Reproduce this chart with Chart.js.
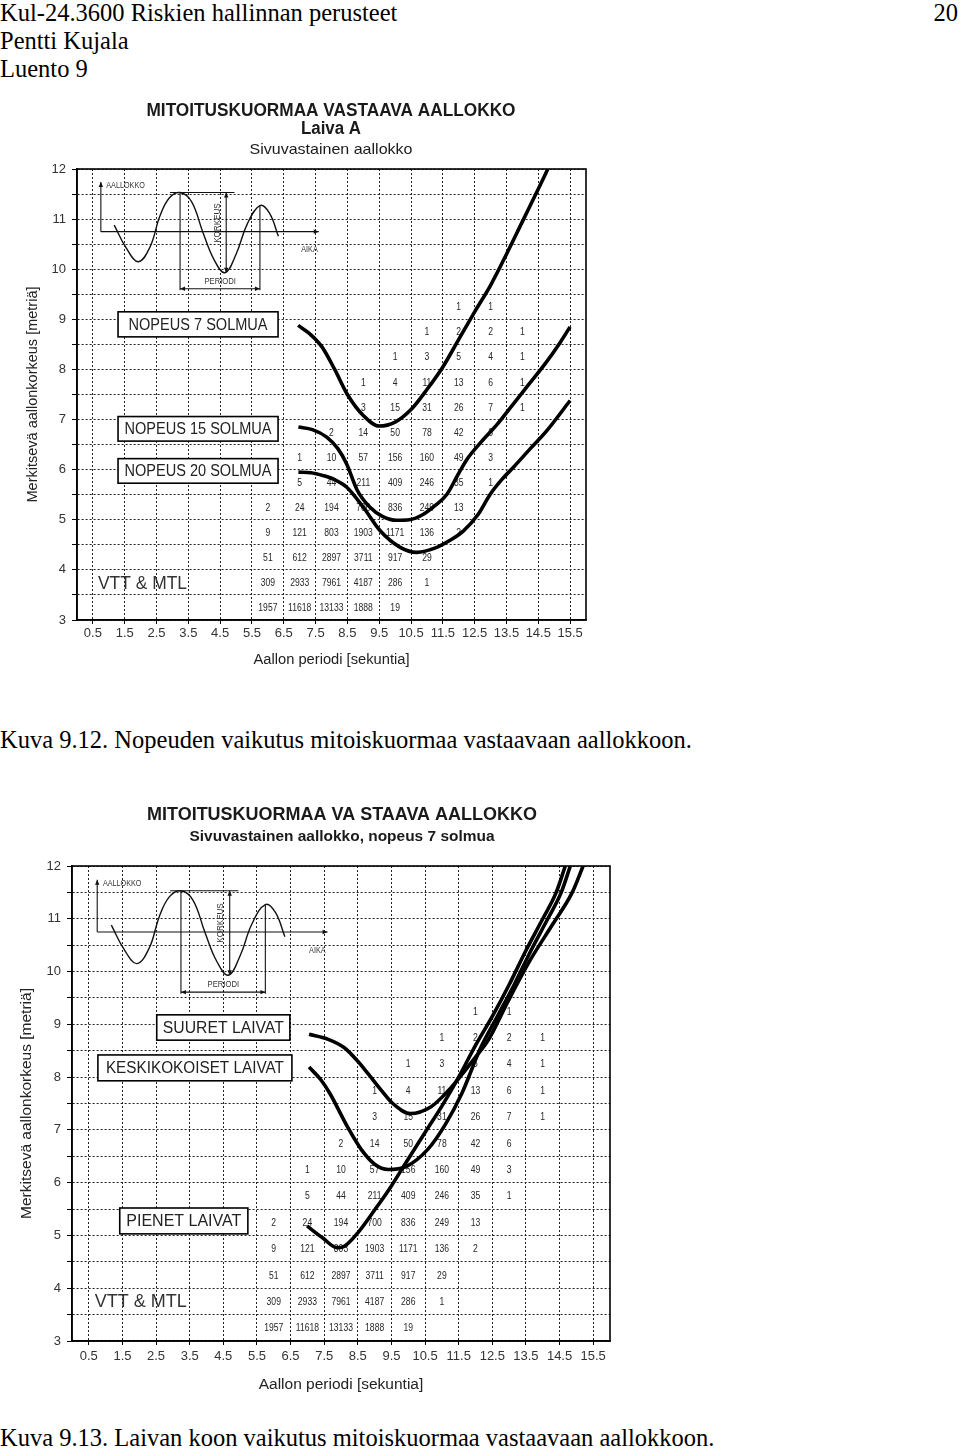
<!DOCTYPE html>
<html><head><meta charset="utf-8">
<script src="https://cdn.jsdelivr.net/npm/chart.js@4.4.1/dist/chart.umd.min.js"></script>
<style>
body{margin:0;background:#fff;width:960px;height:1448px;position:relative;overflow:hidden;font-family:"Liberation Serif","Times New Roman",serif;}
.t{position:absolute;font-size:24.5px;line-height:28px;white-space:nowrap;color:#000;}
#w1{position:absolute;left:0;top:90px;width:640px;height:600px;}
#w2{position:absolute;left:0;top:790px;width:640px;height:610px;}
</style></head><body>
<div class="t" style="left:0;top:-1px">Kul-24.3600 Riskien hallinnan perusteet</div>
<div class="t" style="left:0;top:27px">Pentti Kujala</div>
<div class="t" style="left:0;top:55px">Luento 9</div>
<div class="t" style="right:2px;top:-1px">20</div>
<div id="w1"><canvas id="c1"></canvas></div>
<div class="t" style="left:0;top:726px">Kuva 9.12. Nopeuden vaikutus mitoiskuormaa vastaavaan aallokkoon.</div>
<div id="w2"><canvas id="c2"></canvas></div>
<div class="t" style="left:0;top:1424px">Kuva 9.13. Laivan koon vaikutus mitoiskuormaa vastaavaan aallokkoon.</div>
<script>
// ---------- data ----------
const xTickValues = [0.5,1.5,2.5,3.5,4.5,5.5,6.5,7.5,8.5,9.5,10.5,11.5,12.5,13.5,14.5,15.5];
const yTickStep = 0.5;
// observation counts (wave period integer, height class centre)
const cellHeights = [9.25,8.75,8.25,7.75,7.25,6.75,6.25,5.75,5.25,4.75,4.25,3.75,3.25];
const cellStartPeriod = [12,11,10,9,9,8,7,7,6,6,6,6,6];
const cellCounts = [
  [1,1],
  [1,2,2,1],
  [1,3,5,4,1],
  [1,4,11,13,6,1],
  [3,15,31,26,7,1],
  [2,14,50,78,42,6],
  [1,10,57,156,160,49,3],
  [5,44,211,409,246,35,1],
  [2,24,194,700,836,249,13],
  [9,121,803,1903,1171,136,2],
  [51,612,2897,3711,917,29],
  [309,2933,7961,4187,286,1],
  [1957,11618,13133,1888,19]
];
// chart 1: speeds
const speed7P  = [6.95,7.3,7.7,8.1,8.5,9.0,9.5,10.0,10.5,11.0,11.5,12.0,12.5,13.0,13.5,14.0,14.5,14.8];
const speed7H  = [8.88,8.72,8.45,8.0,7.5,7.08,6.87,6.95,7.2,7.6,8.05,8.6,9.15,9.68,10.3,10.95,11.6,12.0];
const speed15P = [6.96,7.4,7.85,8.2,8.48,8.8,9.21,9.6,10.05,10.45,10.89,11.25,11.63,11.95,12.25,12.7,13.2,13.7,14.2,14.7,15.2,15.5];
const speed15H = [6.85,6.8,6.65,6.42,6.11,5.6,5.25,5.07,4.99,5.0,5.11,5.28,5.51,5.87,6.2,6.55,6.9,7.3,7.7,8.1,8.55,8.85];
const speed20P = [6.96,7.35,7.75,8.1,8.48,9.0,9.53,10.16,10.68,11.31,11.7,12.15,12.6,12.99,13.35,13.72,14.25,14.77,15.5];
const speed20H = [5.95,5.94,5.88,5.8,5.65,5.25,4.78,4.45,4.35,4.45,4.58,4.78,5.1,5.51,5.8,6.05,6.42,6.78,7.38];
// chart 2: ship sizes
const largeP  = [7.05,7.6,8.09,8.5,8.81,9.2,9.54,10.06,10.68,11.2,11.61,12.0,12.38,12.97,13.63,14.3,14.87,15.2];
const largeH  = [8.81,8.72,8.56,8.3,8.06,7.75,7.5,7.31,7.44,7.75,8.06,8.38,8.7,9.44,10.22,10.9,11.49,12.0];
const mediumP = [7.05,7.4,7.67,8.19,8.6,9.0,9.4,9.95,10.58,11.1,11.6,12.15,12.65,13.15,13.65,14.15,14.55,14.82];
const mediumH = [8.19,7.95,7.69,7.06,6.63,6.35,6.25,6.31,6.63,7.1,7.7,8.55,9.15,9.75,10.4,11.0,11.5,12.0];
const smallP  = [6.99,7.46,7.88,8.08,8.5,9.02,9.44,10.0,10.5,11.0,11.5,12.0,12.5,13.0,13.5,14.0,14.4,14.67];
const smallH  = [5.18,4.95,4.77,4.79,5.05,5.5,5.88,6.45,6.95,7.45,8.0,8.6,9.15,9.75,10.4,11.0,11.5,12.0];
// inset sketch: wave trace
const waveP = [1.17,1.55,1.93,2.3,2.6,2.9,3.24,3.6,3.95,4.3,4.65,5.0,5.35,5.75,6.05,6.33];
const waveH = [10.88,10.42,10.15,10.45,11.05,11.42,11.53,11.35,10.75,10.2,9.93,10.3,10.9,11.27,11.12,10.66];

const pts = (P,H)=>P.map((p,i)=>({x:p,y:H[i]}));
const curve = (P,H,label)=>({label,data:pts(P,H),showLine:true,borderColor:'#000',borderWidth:3.6,pointRadius:0,cubicInterpolationMode:'monotone',fill:false});
const waveSet = ()=>({label:'aalto',data:pts(waveP,waveH),showLine:true,borderColor:'#111',borderWidth:1.4,pointRadius:0,tension:0.4,fill:false});

// inset helper segments (data units): [p0,h0,p1,h1,arrowStart,arrowEnd]
const insetSegs = [
  [0.75,10.75,0.75,11.74,0,1],
  [0.75,10.75,7.6,10.75,0,1],
  [2.92,11.53,4.95,11.53,0,0],
  [3.24,11.53,3.24,9.58,0,0],
  [5.75,11.27,5.75,9.58,0,0],
  [3.24,9.61,5.75,9.61,1,1],
  [4.69,11.53,4.69,9.93,1,1]
];

Chart.defaults.font.family = '"Liberation Sans", Arial, sans-serif';

function arrow(ctx,x0,y0,x1,y1){
  const a=Math.atan2(y1-y0,x1-x0), L=5, W=2.2;
  ctx.beginPath();
  ctx.moveTo(x1,y1);
  ctx.lineTo(x1-L*Math.cos(a)+W*Math.sin(a), y1-L*Math.sin(a)-W*Math.cos(a));
  ctx.lineTo(x1-L*Math.cos(a)-W*Math.sin(a), y1-L*Math.sin(a)+W*Math.cos(a));
  ctx.closePath(); ctx.fill();
}
function sText(ctx,s,x,y,sx){
  ctx.save(); ctx.translate(x,y); ctx.scale(sx,1); ctx.fillText(s,0,0); ctx.restore();
}
function fitText(ctx,s,x,y,w){
  const m=ctx.measureText(s).width; sText(ctx,s,x,y,w/m);
}

const decor = {
  id:'decor',
  beforeDatasetsDraw(chart,args,o){
    const ctx=chart.ctx, xs=chart.scales.x, ys=chart.scales.y;
    const X=v=>xs.getPixelForValue(v), Y=v=>ys.getPixelForValue(v);
    ctx.save();
    // counts table
    ctx.fillStyle='#262626'; ctx.textAlign='center'; ctx.textBaseline='middle';
    ctx.font='11px "Liberation Sans"';
    cellHeights.forEach((h,i)=>cellCounts[i].forEach((n,j)=>sText(ctx,String(n),X(cellStartPeriod[i]+j),Y(h)+0.5,0.78)));
    // inset sketch
    ctx.strokeStyle='#111'; ctx.fillStyle='#111'; ctx.lineWidth=1.1;
    insetSegs.forEach(s=>{
      const x0=X(s[0]),y0=Y(s[1]),x1=X(s[2]),y1=Y(s[3]);
      ctx.beginPath(); ctx.moveTo(x0,y0); ctx.lineTo(x1,y1); ctx.stroke();
      if(s[5]) arrow(ctx,x0,y0,x1,y1);
      if(s[4]) arrow(ctx,x1,y1,x0,y0);
    });
    ctx.fillStyle='#333'; ctx.font='8.5px "Liberation Sans"';
    ctx.textAlign='left'; sText(ctx,'AALLOKKO',X(0.92),Y(11.67),0.85);
    sText(ctx,'AIKA',X(7.05),Y(10.4),0.85);
    ctx.textAlign='center'; sText(ctx,'PERIODI',X(4.5),Y(9.76),0.9);
    ctx.save(); ctx.translate(X(4.43),Y(10.92)); ctx.rotate(-Math.PI/2); ctx.scale(0.95,1); ctx.fillText('KORKEUS',0,0); ctx.restore();
    // label boxes
    o.boxes.forEach(b=>{
      const x0=X(b.p0),x1=X(b.p1),y0=Y(b.h0),y1=Y(b.h1);
      ctx.fillStyle='#fff'; ctx.fillRect(x0,y0,x1-x0,y1-y0);
      ctx.strokeStyle='#000'; ctx.lineWidth=1.6; ctx.strokeRect(x0,y0,x1-x0,y1-y0);
      ctx.fillStyle='#222'; ctx.font='16px "Liberation Sans"'; ctx.textAlign='center'; ctx.textBaseline='middle';
      fitText(ctx,b.text,(x0+x1)/2,(y0+y1)/2+1,b.tw);
    });
    ctx.fillStyle='#333'; ctx.font='18px "Liberation Sans"'; ctx.textAlign='left';
    fitText(ctx,'VTT & MTL',X(o.vtt[0]),Y(o.vtt[1]),o.vtt[2]);
    ctx.restore();
  },
  afterDatasetsDraw(chart){
    const ctx=chart.ctx, a=chart.chartArea;
    ctx.save(); ctx.strokeStyle='#000'; ctx.lineWidth=1.6;
    ctx.strokeRect(a.left,a.top,a.right-a.left,a.bottom-a.top); ctx.restore();
  },
  afterDraw(chart,args,o){
    const ctx=chart.ctx;
    ctx.save(); ctx.fillStyle='#1a1a1a'; ctx.textAlign='center'; ctx.textBaseline='middle';
    o.titles.forEach(t=>{ ctx.font=t.font; fitText(ctx,t.text,t.x,t.y,t.w); });
    ctx.restore();
  }
};

function makeChart(id,cfg){
  return new Chart(document.getElementById(id),{
    type:'scatter',
    data:{datasets:cfg.datasets},
    options:{
      responsive:true, maintainAspectRatio:false, animation:false,
      layout:{padding:cfg.padding},
      plugins:{legend:{display:false},tooltip:{enabled:false},
        decor:{boxes:cfg.boxes,titles:cfg.titles,vtt:cfg.vtt}},
      scales:{
        x:{type:'linear',min:0,max:16,
          afterBuildTicks:s=>{s.ticks=xTickValues.map(v=>({value:v}));},
          afterFit:s=>{s.height=cfg.xH;},
          ticks:{autoSkip:false,maxRotation:0,color:'#333',font:{size:13},padding:cfg.xTickPad,callback:v=>String(v)},
          grid:{color:'#222',lineWidth:1,tickLength:4,tickColor:'#000'},
          border:{display:true,color:'#000',width:1.6,dash:[2,2]},
          title:{display:true,text:'Aallon periodi [sekuntia]',color:'#222',font:{size:cfg.xTitleSize},padding:{top:0,bottom:cfg.xTitlePad}}
        },
        y:{type:'linear',min:3,max:12,
          afterFit:s=>{s.width=cfg.yW;},
          ticks:{stepSize:yTickStep,autoSkip:false,color:'#333',font:{size:13},padding:6,callback:v=>Number.isInteger(v)?String(v):''},
          grid:{color:'#222',lineWidth:1,tickLength:5,tickColor:'#000'},
          border:{display:true,color:'#000',width:1.6,dash:[2,2]},
          title:{display:true,text:'Merkitsevä aallonkorkeus [metriä]',color:'#222',font:{size:cfg.yTitleSize},padding:{top:cfg.yTitlePad,bottom:0}}
        }
      }
    },
    plugins:[decor]
  });
}

makeChart('c1',{
  datasets:[curve(speed7P,speed7H,'NOPEUS 7 SOLMUA'),curve(speed15P,speed15H,'NOPEUS 15 SOLMUA'),curve(speed20P,speed20H,'NOPEUS 20 SOLMUA'),waveSet()],
  padding:{left:0,right:54,top:79,bottom:0}, yW:77, xH:70, xTickPad:2, xTitlePad:21, yTitlePad:24, xTitleSize:14.7, yTitleSize:14.5,
  boxes:[
    {text:'NOPEUS 7 SOLMUA',p0:1.29,p1:6.32,h0:9.15,h1:8.65,tw:139},
    {text:'NOPEUS 15 SOLMUA',p0:1.29,p1:6.32,h0:7.06,h1:6.57,tw:147},
    {text:'NOPEUS 20 SOLMUA',p0:1.29,p1:6.32,h0:6.22,h1:5.73,tw:147}
  ],
  vtt:[0.66,3.72,89],
  titles:[
    {text:'MITOITUSKUORMAA VASTAAVA AALLOKKO',x:331,y:21,w:369,font:'bold 18px "Liberation Sans"'},
    {text:'Laiva A',x:331,y:39,w:60,font:'bold 18px "Liberation Sans"'},
    {text:'Sivuvastainen aallokko',x:331,y:60,w:163,font:'15px "Liberation Sans"'}
  ]
});

makeChart('c2',{
  datasets:[curve(largeP,largeH,'SUURET LAIVAT'),curve(mediumP,mediumH,'KESKIKOKOISET LAIVAT'),curve(smallP,smallH,'PIENET LAIVAT'),waveSet()],
  padding:{left:0,right:30,top:76,bottom:0}, yW:72, xH:59, xTickPad:4, xTitlePad:6, yTitlePad:17, xTitleSize:15.5, yTitleSize:15.5,
  boxes:[
    {text:'SUURET LAIVAT',p0:2.52,p1:6.48,h0:9.18,h1:8.70,tw:121},
    {text:'KESKIKOKOISET LAIVAT',p0:0.77,p1:6.54,h0:8.42,h1:7.93,tw:178},
    {text:'PIENET LAIVAT',p0:1.42,p1:5.23,h0:5.52,h1:5.03,tw:115}
  ],
  vtt:[0.68,3.74,92],
  titles:[
    {text:'MITOITUSKUORMAA VA STAAVA AALLOKKO',x:342,y:25,w:390,font:'bold 18px "Liberation Sans"'},
    {text:'Sivuvastainen aallokko, nopeus 7 solmua',x:342,y:47,w:305,font:'bold 15.5px "Liberation Sans"'}
  ]
});
</script>
</body></html>
